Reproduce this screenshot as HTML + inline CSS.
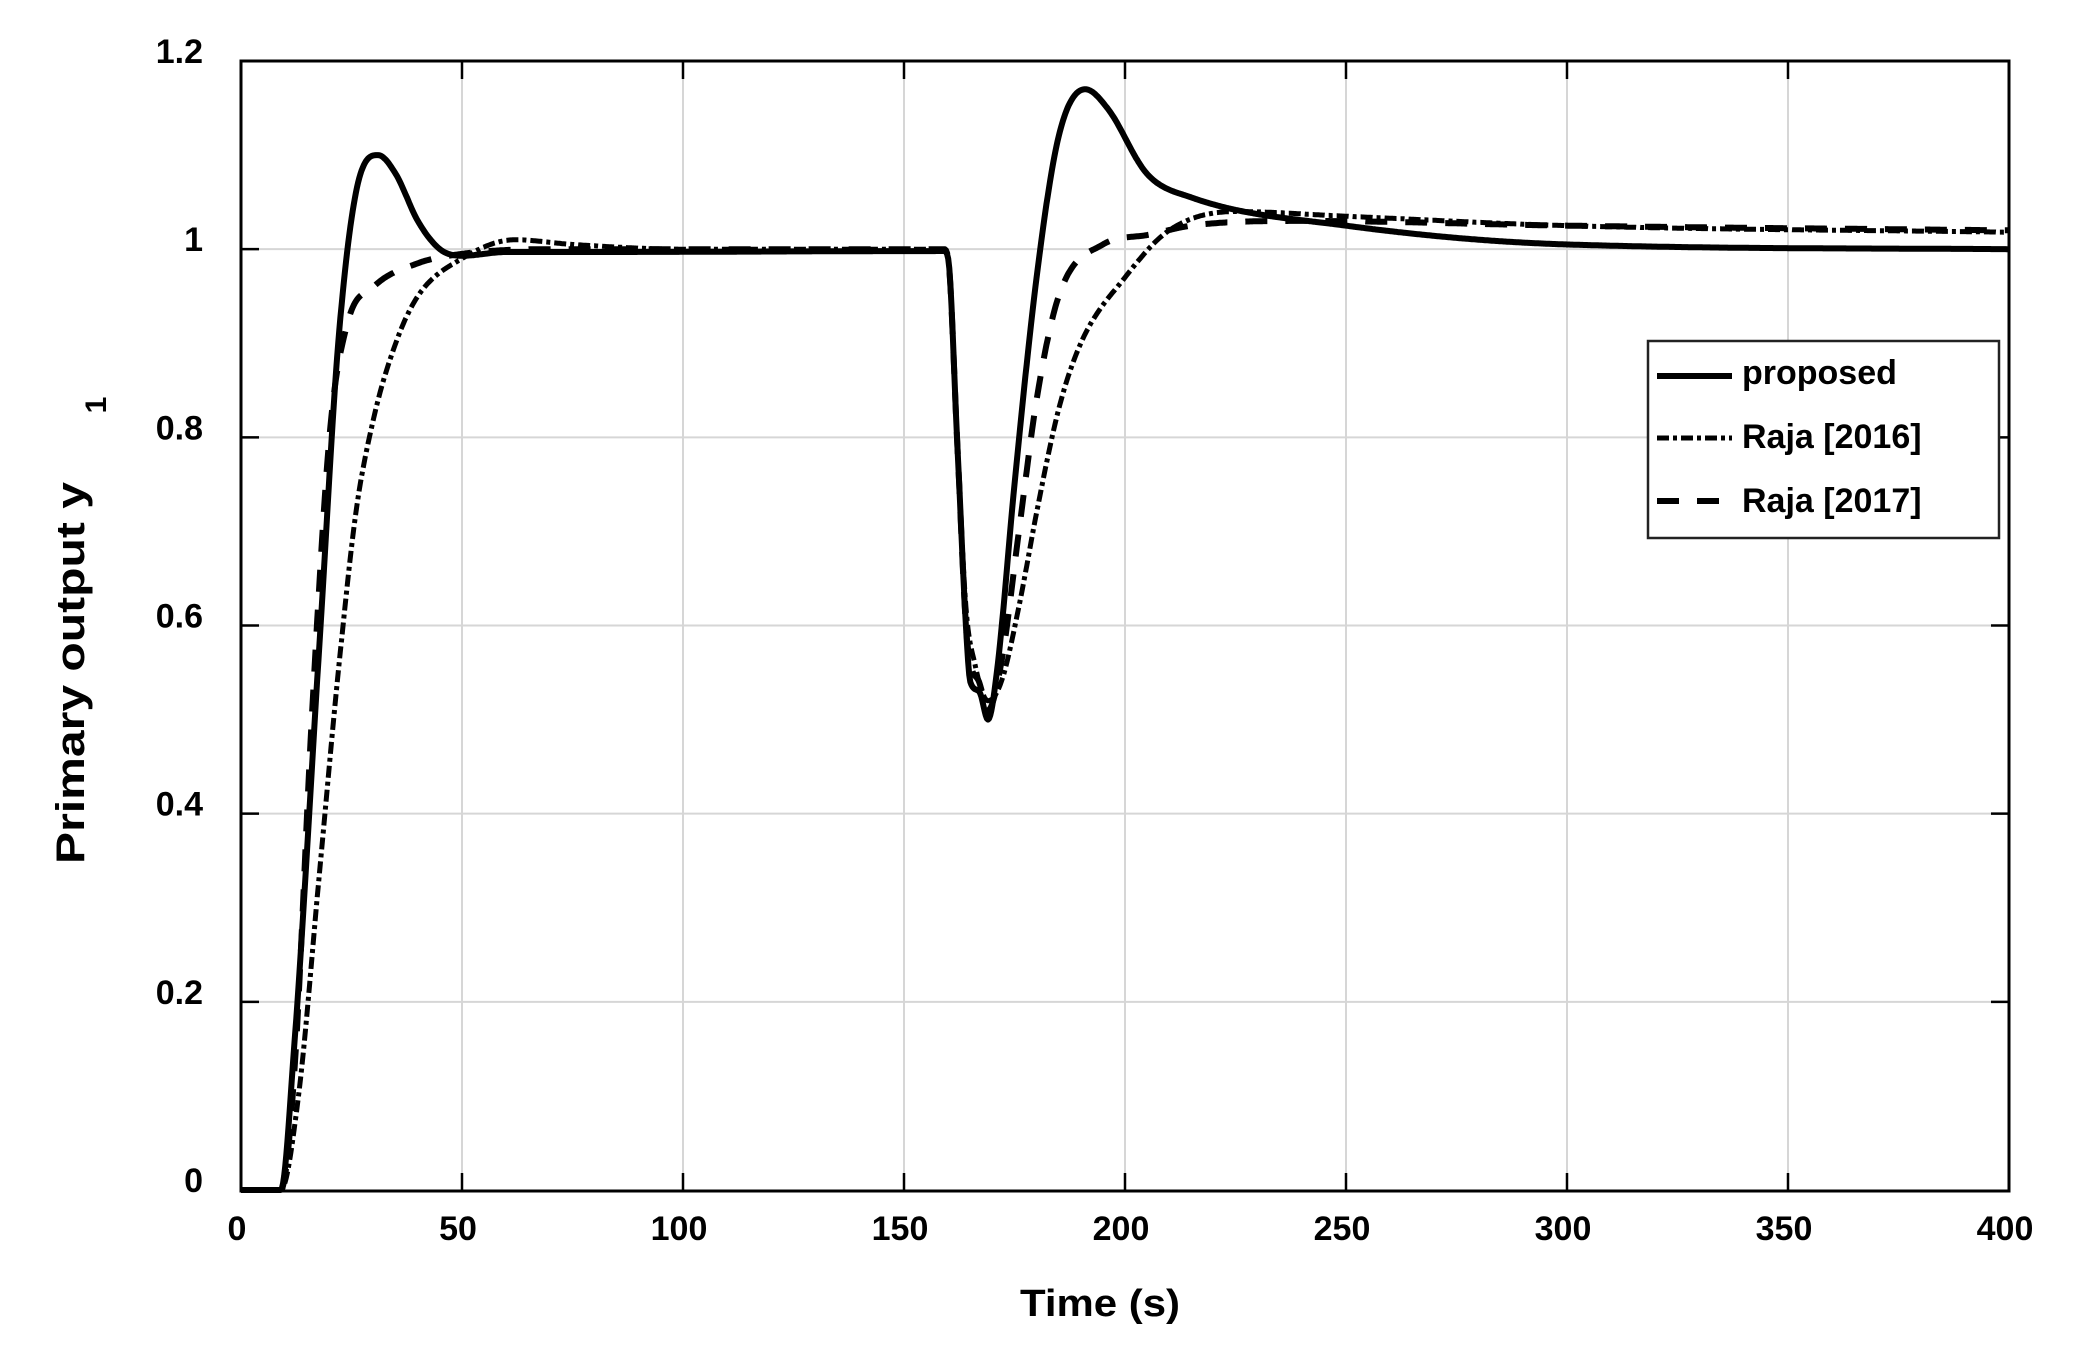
<!DOCTYPE html>
<html><head><meta charset="utf-8"><style>body{margin:0;background:#fff}svg{display:block}</style></head>
<body>
<svg id="s" width="2098" height="1350" xmlns="http://www.w3.org/2000/svg" font-family="Liberation Sans, Arial, sans-serif">
<rect width="2098" height="1350" fill="#fff"/>
<g id="grid" stroke="#d6d6d6" stroke-width="2"></g>
<g id="ticks" stroke="#000" stroke-width="2.5"></g>
<g id="curves" fill="none" stroke="#000" stroke-linejoin="round"></g>
<rect x="241" y="61" width="1768" height="1130" fill="none" stroke="#000" stroke-width="3"/>
<g id="labels" font-size="34" font-weight="bold" fill="#000"></g>
<text x="1020" y="1316" font-size="38" font-weight="bold" textLength="160" lengthAdjust="spacingAndGlyphs">Time (s)</text>
<text transform="translate(84,864) rotate(-90)" x="0" font-size="40" font-weight="bold" textLength="382" lengthAdjust="spacingAndGlyphs">Primary output y</text>
<text transform="translate(106,405) rotate(-90)" font-size="30" font-weight="bold" text-anchor="middle">1</text>
<rect x="1648" y="341" width="351" height="197" fill="#fff" stroke="#222" stroke-width="2.5"/>
<line x1="1657" y1="376" x2="1732" y2="376" stroke="#000" stroke-width="6"/>
<line x1="1657" y1="438" x2="1732" y2="438" stroke="#000" stroke-width="5" stroke-dasharray="12,4,4,4"/>
<line x1="1657" y1="501" x2="1732" y2="501" stroke="#000" stroke-width="6" stroke-dasharray="22,18"/>
<text x="1742" y="384" font-size="34" font-weight="bold">proposed</text>
<text x="1742" y="448" font-size="34" font-weight="bold">Raja [2016]</text>
<text x="1742" y="512" font-size="34" font-weight="bold">Raja [2017]</text>
</svg>
<script>
const NS="http://www.w3.org/2000/svg";
const X=t=>241+t*1768/400, Y=v=>1190-v*1129/1.2;
function el(p,tag,a,txt){const e=document.createElementNS(NS,tag);for(const k in a)e.setAttribute(k,a[k]);if(txt!==undefined)e.textContent=txt;document.getElementById(p).appendChild(e);}
for(let i=1;i<8;i++){const x=X(i*50);el('grid','line',{x1:x,y1:61,x2:x,y2:1191});el('ticks','line',{x1:x,y1:1191,x2:x,y2:1173});el('ticks','line',{x1:x,y1:61,x2:x,y2:79});}
for(let i=1;i<6;i++){const y=Y(i*0.2);el('grid','line',{x1:241,y1:y,x2:2009,y2:y});el('ticks','line',{x1:241,y1:y,x2:259,y2:y});el('ticks','line',{x1:2009,y1:y,x2:1991,y2:y});}
for(let i=0;i<=8;i++)el('labels','text',{x:X(i*50)-4,y:1240,'text-anchor':'middle'},String(i*50));
['0','0.2','0.4','0.6','0.8','1','1.2'].forEach((s,i)=>el('labels','text',{x:203,y:Y(i*0.2)+2,'text-anchor':'end'},s));
function mono(pts){const n=pts.length,xs=pts.map(p=>p[0]),ys=pts.map(p=>p[1]);const d=[],m=new Array(n);
 for(let i=0;i<n-1;i++)d.push((ys[i+1]-ys[i])/(xs[i+1]-xs[i]));
 m[0]=d[0];m[n-1]=d[n-2];for(let i=1;i<n-1;i++){m[i]=(d[i-1]*d[i]<=0)?0:(d[i-1]+d[i])/2;}
 for(let i=0;i<n-1;i++){if(d[i]===0){m[i]=0;m[i+1]=0;continue;}const a=m[i]/d[i],b=m[i+1]/d[i],s=a*a+b*b;if(s>9){const t=3/Math.sqrt(s);m[i]=t*a*d[i];m[i+1]=t*b*d[i];}}
 let out='';for(let i=0;i<n-1;i++){const h=xs[i+1]-xs[i];const N=Math.max(2,Math.ceil(h*4));for(let k=(i?1:0);k<=N;k++){const u=k/N,h00=2*u*u*u-3*u*u+1,h10=u*u*u-2*u*u+u,h01=-2*u*u*u+3*u*u,h11=u*u*u-u*u;const x=xs[i]+u*h,y=h00*ys[i]+h10*h*m[i]+h01*ys[i+1]+h11*h*m[i+1];out+=(out?' L':'M')+X(x).toFixed(1)+','+Y(y).toFixed(1);}}
 return out;}
const p2016=[[0,0],[9,0],[13,0.1],[18,0.35],[22,0.55],[26,0.72],[30,0.82],[35,0.9],[40,0.95],[50,0.99],[62,1.01],[75,1.005],[100,1.0],[159,1.0],[160,0.99],[162,0.8],[164,0.62],[166,0.56],[169,0.52],[172,0.54],[176,0.62],[180,0.72],[185,0.83],[190,0.9],[200,0.97],[210,1.02],[225,1.04],[250,1.035],[300,1.025],[400,1.018]];
const p2017=[[0,0],[9,0],[12,0.12],[16,0.5],[20,0.8],[24,0.92],[30,0.96],[40,0.985],[50,0.995],[70,1.0],[159,1.0],[160,0.99],[162,0.8],[164,0.6],[165,0.56],[167,0.54],[169,0.51],[172,0.56],[176,0.7],[180,0.84],[185,0.95],[195,1.005],[205,1.015],[215,1.025],[240,1.03],[300,1.025],[400,1.02]];
const prop=[[0,0],[9,0],[12,0.15],[18,0.6],[22,0.9],[26,1.06],[31,1.1],[35,1.08],[40,1.03],[45,1.0],[50,0.993],[60,0.997],[80,0.997],[159,0.998],[160,0.99],[162,0.8],[164,0.6],[165,0.54],[167,0.53],[169,0.5],[171,0.55],[175,0.75],[180,0.97],[185,1.12],[191,1.17],[196,1.15],[205,1.08],[215,1.055],[250,1.025],[300,1.005],[400,1.0]];
el('curves','path',{d:mono(p2016),'stroke-width':5,'stroke-dasharray':'12,4,4,4'});
el('curves','path',{d:mono(p2017),'stroke-width':6,'stroke-dasharray':'22,18'});
el('curves','path',{d:mono(prop),'stroke-width':6});
</script>
</body></html>
